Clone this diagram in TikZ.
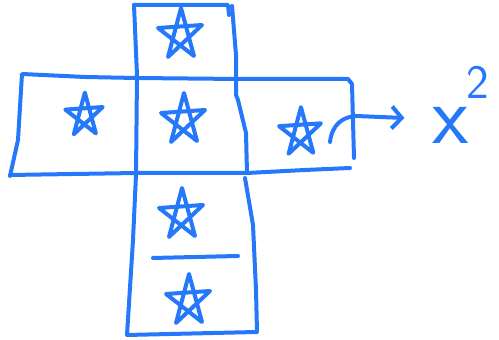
\documentclass[tikz,border=0pt]{standalone}
\usetikzlibrary{arrows.meta}
\definecolor{ink}{RGB}{38,120,250}
\tikzset{
  pen/.style={draw=ink,line width=2pt,line cap=round,line join=round},
  pics/starmark/.style={code={\draw[pen] (-12,25) -- (1,-24) -- (14,24) -- (-22,-4) -- (22,-7) -- cycle;}},
  hand/.style={text=ink,font=\sffamily,inner sep=0pt}
}
\begin{document}
\begin{tikzpicture}[x=0.5pt,y=-0.5pt]
\path[use as bounding box] (0,0) rectangle (499,340);
% column
\draw[pen] (134,5) -- (137,75) -- (136,175) -- (133,240) -- (127,335) -- (257,332) -- (256,290) -- (253,225) -- (245,178);
\draw[pen] (134,5) -- (228,5) -- (229,15);
\draw[pen] (232,6) -- (236,55) -- (236,95) -- (238,100) -- (246,133) -- (247,173);
% arms
\draw[pen] (10,176) -- (18,140) -- (22,74) -- (85,77) -- (136,78) -- (238,79) -- (348,79) -- (352,84) -- (354,158);
\draw[pen] (10,175) -- (137,173) -- (247,173) -- (305,170) -- (350,168);
\draw[pen] (153,258) -- (238,256);
% stars
\pic at (180,32) {starmark};
\pic[scale=0.85] at (84,113) {starmark};
\pic at (183,117) {starmark};
\pic[scale=0.95] at (300,130) {starmark};
\pic at (181,212) {starmark};
\pic at (188,298) {starmark};
% label
\node[hand,font=\sffamily\fontsize{42}{42}\selectfont] (xch) at (451,125) {x};
\node[hand,font=\sffamily\fontsize{24}{24}\selectfont] (two) at (478,82) {2};
\coordinate (start) at (330,142);
\draw[pen,-{Straight Barb[length=5pt,width=11pt]}] (start) .. controls (332,125) and (342,117) .. (356,116) -- ([xshift=-14pt,yshift=3.5pt]xch.west);
\end{tikzpicture}
\end{document}
